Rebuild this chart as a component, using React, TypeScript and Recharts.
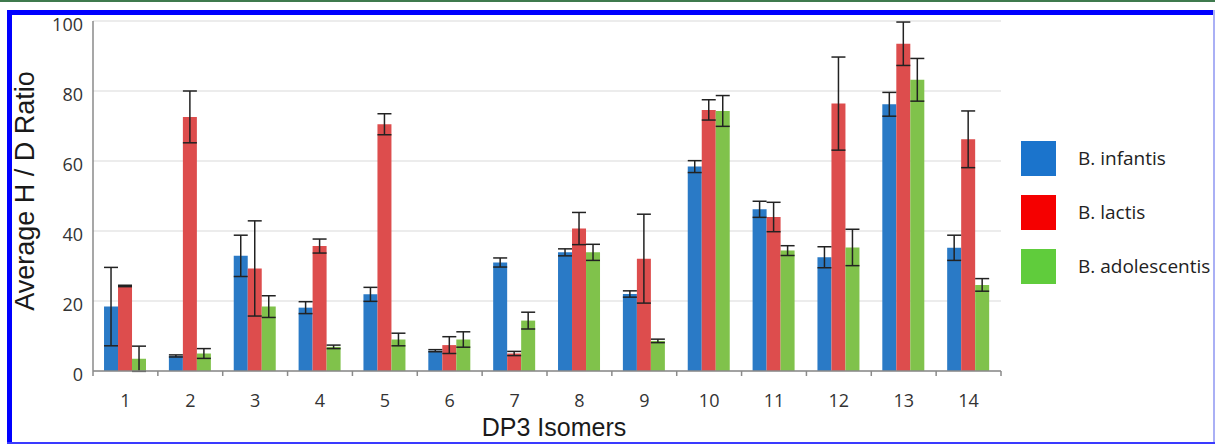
import React from 'react';
import { BarChart, Bar, XAxis, YAxis, CartesianGrid, ErrorBar } from 'recharts';

const categories = ['1', '2', '3', '4', '5', '6', '7', '8', '9', '10', '11', '12', '13', '14'];
const infantis = [18.4, 4.3, 32.9, 18.1, 21.9, 5.8, 31.0, 33.9, 22.0, 58.4, 46.2, 32.5, 76.2, 35.2];
const infantisErr = [11.2, 0.3, 5.9, 1.7, 2.0, 0.3, 1.3, 1.0, 0.9, 1.7, 2.3, 3.0, 3.4, 3.6];
const lactis = [24.3, 72.6, 29.3, 35.7, 70.5, 7.4, 5.0, 40.7, 32.1, 74.6, 44.0, 76.4, 93.5, 66.2];
const lactisErr = [0.2, 7.4, 13.6, 2.0, 3.0, 2.4, 0.6, 4.6, 12.7, 2.9, 4.2, 13.3, 6.2, 8.1];
const adolescentis = [3.5, 5.0, 18.4, 6.9, 9.0, 9.0, 14.4, 33.9, 8.6, 74.3, 34.4, 35.3, 83.2, 24.6];
const adolescentisErr = [3.6, 1.4, 3.1, 0.5, 1.8, 2.2, 2.4, 2.3, 0.5, 4.4, 1.4, 5.2, 6.1, 1.8];
const yTicks = [0, 20, 40, 60, 80, 100];

const series = [
  { key: 'infantis', err: 'infantisErr', name: 'B. infantis', fill: '#2a7ac6', legend: '#1b74cc' },
  { key: 'lactis', err: 'lactisErr', name: 'B. lactis', fill: '#dd4d4d', legend: '#f50000' },
  { key: 'adolescentis', err: 'adolescentisErr', name: 'B. adolescentis', fill: '#80c24b', legend: '#60cc3c' },
];

const data = categories.map((c, i) => ({
  cat: c,
  infantis: infantis[i],
  infantisErr: infantisErr[i],
  lactis: lactis[i],
  lactisErr: lactisErr[i],
  adolescentis: adolescentis[i],
  adolescentisErr: adolescentisErr[i],
}));

const tickFont = '"Open Sans", sans-serif';
const titleFont = '"Liberation Sans", Arial, sans-serif';

const XTick = (props: any) => {
  const { x, y, payload, index } = props;
  const off = payload && typeof payload.offset === 'number' ? payload.offset : 32.4;
  return (
    <g>
      <line x1={x - off} x2={x - off} y1={y} y2={y + 5} stroke="#8a8a8a" strokeWidth={1.5} />
      {index === categories.length - 1 && (
        <line x1={x + off} x2={x + off} y1={y} y2={y + 5} stroke="#8a8a8a" strokeWidth={1.5} />
      )}
      <text x={x} y={y + 36} textAnchor="middle" fontSize={18} fontFamily={tickFont} fill="#333">
        {payload.value}
      </text>
    </g>
  );
};

const YTick = (props: any) => {
  const { x, y, payload } = props;
  return (
    <text x={x} y={y + 10} textAnchor="end" fontSize={18} fontFamily={tickFont} fill="#333">
      {payload.value}
    </text>
  );
};

export default function App() {
  return (
    <div style={{ position: 'absolute', left: 0, top: 0, width: 1215, height: 444, background: '#fff', overflow: 'hidden' }}>
      <div style={{ position: 'absolute', left: 0, top: 0, width: 1215, height: 2, background: '#3f7a4e' }} />
      <BarChart
        width={1215}
        height={444}
        data={data}
        margin={{ top: 21, right: 214, bottom: 0, left: 0 }}
        barCategoryGap="17%"
        barGap={0}
        style={{ position: 'absolute', left: 0, top: 0 }}
      >
        <CartesianGrid vertical={false} stroke="#d9d9d9" strokeWidth={1.2} />
        <XAxis
          dataKey="cat"
          height={73}
          axisLine={{ stroke: '#8a8a8a', strokeWidth: 1.5 }}
          tickLine={false}
          tickSize={0}
          tickMargin={0}
          interval={0}
          tick={<XTick />}
          label={{
            content: (p: any) => {
              const vb = p.viewBox || { x: 0, y: 371, width: 908, height: 73 };
              return (
                <text
                  x={vb.x + vb.width / 2 + 7}
                  y={vb.y + vb.height - 8}
                  textAnchor="middle"
                  fontSize={25}
                  fontFamily={titleFont}
                  fill="#1a1a1a"
                >
                  DP3 Isomers
                </text>
              );
            },
          }}
        />
        <YAxis
          width={93}
          domain={[0, 100]}
          ticks={yTicks}
          allowDataOverflow
          axisLine={{ stroke: '#8a8a8a', strokeWidth: 1.5 }}
          tickLine={false}
          tickSize={0}
          tickMargin={10}
          tick={<YTick />}
          label={{
            content: (p: any) => {
              const vb = p.viewBox || { x: 0, y: 21, width: 93, height: 350 };
              const cx = vb.x + 34;
              const cy = vb.y + vb.height / 2 - 5;
              return (
                <text
                  x={cx}
                  y={cy}
                  transform={`rotate(-90 ${cx} ${cy})`}
                  textAnchor="middle"
                  fontSize={27}
                  fontFamily={titleFont}
                  fill="#1a1a1a"
                >
                  Average H / D Ratio
                </text>
              );
            },
          }}
        />
        {series.map((s) => (
          <Bar key={s.key} dataKey={s.key} name={s.name} fill={s.fill} isAnimationActive={false}>
            <ErrorBar dataKey={s.err} width={7} stroke="#222" strokeWidth={1.5} direction="y" />
          </Bar>
        ))}
      </BarChart>
      {series.map((s, i) => (
        <div key={s.key}>
          <div
            style={{
              position: 'absolute',
              left: 1021,
              top: 141 + i * 54,
              width: 35,
              height: 35,
              background: s.legend,
            }}
          />
          <div
            style={{
              position: 'absolute',
              left: 1078,
              top: 141 + i * 54,
              height: 35,
              lineHeight: '35px',
              fontSize: 19,
              fontFamily: tickFont,
              color: '#222',
              whiteSpace: 'nowrap',
            }}
          >
            {s.name}
          </div>
        </div>
      ))}
      <div style={{ position: 'absolute', left: 7, top: 10, width: 1208, height: 5, background: '#0000ff' }} />
      <div style={{ position: 'absolute', left: 7, top: 10, width: 5, height: 434, background: '#0000ff' }} />
      <div style={{ position: 'absolute', left: 1213, top: 10, width: 2, height: 434, background: '#aab0f5' }} />
      <div style={{ position: 'absolute', left: 7, top: 442, width: 1208, height: 2, background: '#3a3aff' }} />
    </div>
  );
}
